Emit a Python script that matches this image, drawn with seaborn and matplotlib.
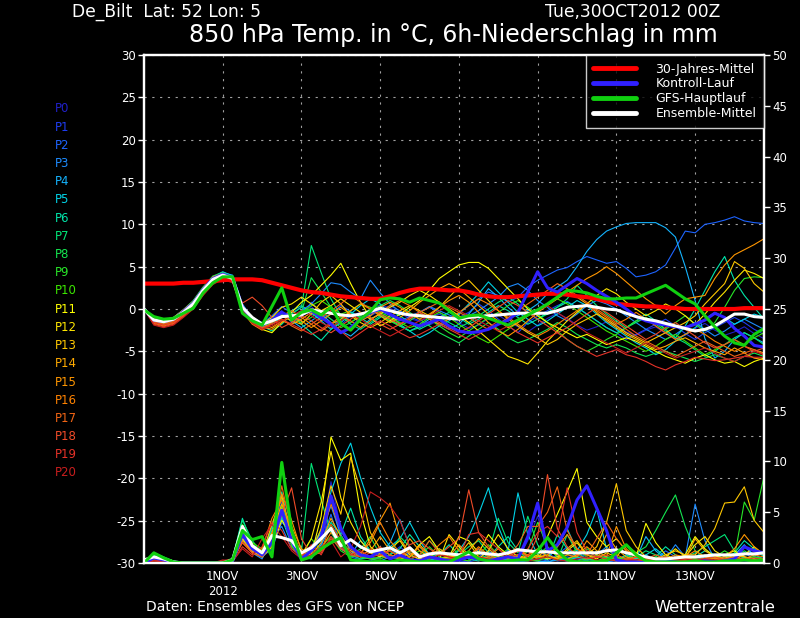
import numpy as np
import pandas as pd
import matplotlib
matplotlib.use('Agg')
import matplotlib.pyplot as plt
import seaborn as sns
from matplotlib.lines import Line2D

# forecast hours in 6h steps from Tue,30OCT2012 00Z
hours = np.arange(0, 384, 6)

date_ticks = [48, 96, 144, 192, 240, 288, 336]
date_labels = ['1NOV\n2012', '3NOV', '5NOV', '7NOV', '9NOV', '11NOV', '13NOV']
temp_ticks = [-30, -25, -20, -15, -10, -5, 0, 5, 10, 15, 20, 25, 30]
precip_ticks = [0, 5, 10, 15, 20, 25, 30, 35, 40, 45, 50]

member_names = ['P%d' % k for k in range(21)]
member_colors = ['#2020c8', '#1e3cf0', '#1e64ff', '#1e8cff', '#14b4ff', '#00d2e6',
                 '#00e6aa', '#00e678', '#14e650', '#28e628', '#3ce600', '#ffff00',
                 '#ffe600', '#ffc800', '#ffaa00', '#ff9600', '#ff8200', '#f06414',
                 '#f04b28', '#e63228', '#c81e1e']

# 850 hPa temperature (deg C), ensemble members
temp_p0 = [0.0, -1.3, -1.5, -1.2, -0.3, 0.7, 2.3, 3.6,
           4.1, 3.7, 0.2, -1.2, -1.9, -1.4, -0.6, -1.2,
           -0.6, 0.3, -0.9, -1.8, -2.8, -2.3, -1.2, 0.1,
           0.5, 0.1, -0.5, -1.1, -1.5, -1.9, -1.3, -0.9,
           -1.6, -2.3, -1.9, -1.1, -0.7, -1.5, -2.1, -2.7,
           -1.9, -1.1, -0.5, -1.1, -1.9, -2.5, -2.1, -1.5,
           -1.9, -2.7, -3.1, -2.5, -2.1, -2.9, -3.5, -3.1,
           -2.3, -1.7, -2.5, -3.1, -2.7, -2.1, -2.9, -3.5]
temp_p1 = [0.0, -1.5, -1.7, -1.4, -0.5, 0.5, 2.1, 3.4,
           4.0, 3.6, 0.0, -1.4, -2.1, -1.0, -0.2, -1.6,
           -1.0, 0.8, -0.4, -1.2, -1.9, -0.8, -0.4, -0.8,
           -0.2, 0.4, -0.2, -0.9, -1.4, -1.0, -0.6, -1.2,
           -1.0, -0.4, 0.6, -0.2, -1.2, -2.0, -2.8, -1.6,
           -0.8, -0.2, 0.4, 0.9, 0.2, -0.6, -1.4, -2.2,
           -2.8, -3.6, -3.0, -2.4, -1.8, -1.2, -2.0, -2.9,
           -3.6, -2.8, -2.2, -1.6, -1.0, -1.6, -2.4, -3.0]
temp_p2 = [0.0, -1.2, -1.4, -1.1, -0.2, 0.8, 2.4, 3.7,
           4.2, 3.8, 0.4, -1.0, -1.7, -0.8, 0.3, -0.5,
           0.2, -0.6, -1.2, -0.6, 0.4, -0.3, -1.0, -0.6,
           -0.2, -0.8, -1.4, -0.9, -0.4, 0.2, -0.4, -1.0,
           -0.5, 0.4, 1.2, 2.0, 1.6, 0.8, 1.4, 2.6,
           3.4, 4.0, 4.6, 4.9, 5.6, 6.2, 5.8, 5.4,
           5.6, 4.8, 3.8, 4.0, 4.4, 5.2, 7.2, 9.2,
           9.0, 10.0, 10.2, 10.5, 10.9, 10.4, 10.2, 10.1]
temp_p3 = [0.0, -1.4, -1.6, -1.3, -0.4, 0.6, 2.2, 3.5,
           4.3, 4.0, 0.6, -1.1, -1.8, -1.2, -0.4, -0.9,
           -0.2, 0.6, 1.8, 3.1, 2.9, 2.0, 1.2, 3.4,
           1.9, 0.6, -0.3, -0.8, -0.4, 0.3, -0.2, -0.7,
           -1.2, -0.8, -0.2, 0.6, 1.4, 2.6, 3.0, 2.2,
           1.0, 0.2, -0.8, -1.4, -0.6, 0.4, 1.0, 0.6,
           0.0, -0.8, -1.6, -2.4, -3.0, -3.6, -3.0, -2.2,
           -1.6, -2.4, -3.2, -2.6, -1.8, -1.2, -1.8, -2.4]
temp_p4 = [0.0, -1.3, -1.6, -1.3, -0.4, 0.6, 2.2, 3.6,
           4.2, 3.9, 0.3, -1.3, -2.0, -1.6, -0.8, -1.4,
           -2.2, -1.4, -0.6, -1.6, -2.6, -3.2, -2.2, -1.2,
           -0.6, -1.2, -2.0, -2.6, -2.0, -1.2, -1.8, -2.4,
           -1.8, -0.6, 0.8, 2.4, 1.4, 0.2, -0.8, -0.2,
           0.6, 1.8, 2.6, 3.4, 5.0, 6.8, 8.2, 9.2,
           9.7, 10.1, 10.2, 10.2, 10.2, 9.6, 8.5, 5.0,
           1.0, -3.5, -5.8, -5.0, -3.6, -2.8, -3.4, -4.0]
temp_p5 = [0.0, -1.1, -1.3, -1.0, -0.1, 0.9, 2.5, 3.8,
           4.4, 3.9, 0.4, -1.0, -1.6, -1.8, -1.0, -0.2,
           0.4, -0.4, -1.4, -2.4, -1.6, -0.6, 0.4, 1.2,
           0.6, -0.6, -1.8, -2.6, -3.4, -2.8, -2.0, -1.4,
           -0.6, 0.6, 1.8, 3.2, 2.0, 0.8, -0.4, -1.2,
           -2.0, -1.4, -0.6, 0.2, 1.0, 0.4, -0.6, -1.6,
           -2.4, -3.2, -4.0, -4.6, -5.4, -4.8, -3.8, -3.0,
           -2.2, -1.2, -0.4, -1.0, -1.8, -1.2, -0.6, -1.0]
temp_p6 = [0.0, -1.2, -1.4, -1.1, -0.2, 0.8, 2.4, 3.7,
           4.1, 3.7, 0.1, -1.3, -2.0, -2.6, -1.8, -0.6,
           -1.8, -2.8, -3.7, -2.4, -1.2, -0.4, -1.0, -1.8,
           -1.0, -0.2, -0.8, -1.6, -2.4, -1.8, -1.0, -0.4,
           -1.0, -1.8, -1.2, -0.4, 0.4, -0.2, -1.0, -1.8,
           -1.2, -0.4, 0.2, 0.8, 0.2, -0.6, -1.4, -2.2,
           -2.8, -2.2, -1.4, -0.6, -1.4, -2.4, -3.4, -2.0,
           0.0, 2.2, 4.4, 6.2, 3.4, 1.6, 0.2, -1.2]
temp_p7 = [0.0, -1.4, -1.7, -1.3, -0.3, 0.6, 2.2, 3.5,
           4.0, 3.6, 0.0, -1.5, -2.2, -1.6, -1.0, -0.6,
           0.2, 7.5, 4.3, 1.2, -0.8, -1.8, -2.4, -1.6,
           -0.8, -1.4, -2.0, -2.6, -2.2, -1.6, -1.0, -1.6,
           -2.2, -1.6, -0.8, 0.0, 0.8, 1.4, 0.6, -0.4,
           -1.2, -0.6, 0.2, 1.2, 2.8, 1.6, 0.4, -0.6,
           -1.4, -2.2, -1.6, -1.0, -1.8, -2.6, -3.4, -4.0,
           -4.8, -5.6, -5.0, -4.2, -3.4, -2.8, -3.4, -4.2]
temp_p8 = [0.0, -1.0, -1.3, -1.0, -0.1, 1.0, 2.6, 3.9,
           4.3, 3.8, 0.3, -1.1, -1.8, -1.0, -0.6, -1.4,
           -0.4, 3.7, 2.0, 0.2, -1.0, -1.6, -0.8, -0.2,
           0.4, 1.0, 0.4, -0.4, -1.2, -2.0, -2.8, -3.4,
           -4.0, -3.2, -2.4, -1.6, -2.4, -3.4, -4.0, -3.6,
           -3.0, -2.4, -1.6, -2.2, -3.0, -3.6, -4.2, -4.6,
           -4.2, -4.6, -5.2, -5.6, -5.2, -5.0, -5.4, -5.8,
           -6.2, -5.8, -5.4, -5.8, -6.2, -5.6, -5.2, -5.6]
temp_p9 = [0.0, -1.3, -1.5, -1.2, -0.3, 0.7, 2.3, 3.6,
           4.1, 3.7, 0.2, -1.2, -1.9, -1.2, -0.4, -1.0,
           -1.6, -1.0, -0.2, -1.2, -2.2, -1.6, -0.8, 0.0,
           -0.6, -1.4, -2.0, -1.4, -0.6, -1.2, -2.0, -2.8,
           -3.4, -2.6, -1.8, -1.0, -0.4, 0.4, 1.0, 0.2,
           -0.6, -1.6, -2.6, -3.6, -4.4, -5.0, -4.4, -3.6,
           -3.0, -2.2, -1.4, -1.0, -1.6, -2.4, -1.6, -0.8,
           -1.8, -2.6, -1.6, 0.2, 2.2, 3.6, 3.8, 3.7]
temp_p10 = [0.0, -1.5, -1.8, -1.5, -0.6, 0.4, 2.0, 3.3,
            3.9, 3.5, -0.1, -1.6, -2.3, -1.4, -0.4, -1.0,
            -0.4, 0.4, 1.0, 0.2, -0.6, -0.2, 0.6, 0.2,
            -0.4, -1.0, -1.6, -2.2, -1.8, -1.0, -0.4, -1.0,
            -1.8, -2.6, -3.4, -4.0, -3.2, -2.4, -1.6, -0.8,
            -0.2, 0.6, 1.2, 0.6, -0.2, -1.0, -1.8, -2.6,
            -3.2, -3.8, -4.4, -5.0, -4.4, -3.6, -3.0, -3.8,
            -4.6, -5.4, -4.8, -4.2, -3.6, -4.2, -3.4, -2.8]
temp_p11 = [0.0, -1.6, -1.9, -1.6, -0.7, 0.3, 1.9, 3.2,
            3.8, 3.4, -0.2, -1.7, -2.4, -2.8, -1.6, -0.4,
            0.8, 1.6, 2.8, 4.0, 5.4, 3.0, 0.8, -1.0,
            -2.0, -1.4, -0.6, 0.2, 1.0, 2.2, 3.6, 4.4,
            5.2, 5.5, 5.5, 4.8, 3.6, 2.4, 1.2, 0.0,
            -0.8, -1.6, -2.2, -2.8, -3.4, -3.0, -3.6, -4.2,
            -3.8, -3.4, -3.8, -4.4, -5.0, -5.6, -6.0, -6.4,
            -5.8, -5.4, -6.0, -6.4, -6.2, -6.8, -6.2, -5.8]
temp_p12 = [0.0, -1.2, -1.4, -1.2, -0.2, 0.8, 2.4, 3.7,
            4.1, 3.7, 0.2, -1.1, -1.8, -1.0, 0.2, 0.6,
            1.4, 0.6, -0.2, 0.4, 1.2, 0.4, -0.4, -1.2,
            -0.6, 0.2, 0.8, 1.6, 2.2, 1.6, 0.8, 0.0,
            -0.8, -1.6, -2.6, -3.6, -4.6, -5.6, -6.0, -6.5,
            -5.2, -3.8, -2.6, -1.4, -0.4, 0.6, 1.6, 2.4,
            1.8, 0.8, 0.0, -0.8, -0.2, 0.6, 0.0, -0.8,
            -1.8, -0.6, 0.8, 2.0, 3.4, 4.6, 4.2, 3.6]
temp_p13 = [0.0, -1.3, -1.6, -1.3, -0.4, 0.6, 2.2, 3.5,
            4.0, 3.6, 0.1, -1.3, -2.0, -1.2, -0.8, -1.4,
            -1.8, -0.6, 0.8, 1.6, 0.6, -0.8, -1.6, -2.2,
            -1.6, -0.8, -0.2, 0.4, -0.2, -0.8, 0.2, 1.4,
            2.6, 3.4, 2.2, 1.0, -0.2, -1.2, -2.0, -2.8,
            -3.4, -4.2, -3.6, -2.6, -1.8, -1.2, -0.6, -1.2,
            -2.0, -2.8, -3.4, -4.0, -3.4, -2.8, -2.2, -1.6,
            -0.8, 0.6, 1.8, 3.0, 5.6, 4.8, 3.0, 2.0]
temp_p14 = [0.0, -1.1, -1.3, -1.0, -0.1, 0.9, 2.5, 3.8,
            4.2, 3.8, 0.3, -1.0, -1.7, -2.2, -1.4, -1.8,
            -1.2, -0.4, -1.0, -1.8, -1.2, -0.2, 0.6, 0.0,
            -0.8, -1.6, -1.0, -0.2, 0.8, 1.6, 2.4, 3.0,
            2.4, 1.4, 0.4, -0.6, -1.4, -2.2, -1.6, -0.8,
            -0.2, 0.6, 1.4, 2.2, 1.4, 0.6, -0.4, -1.4,
            -2.2, -3.0, -3.6, -4.2, -4.8, -4.4, -3.8, -3.4,
            -4.0, -4.6, -5.0, -5.4, -4.6, -5.2, -5.8, -6.0]
temp_p15 = [0.0, -1.4, -1.7, -1.4, -0.5, 0.5, 2.1, 3.4,
            3.9, 3.5, 0.0, -1.4, -2.1, -2.4, -1.6, -0.8,
            -1.4, -2.2, -1.4, -0.6, 0.2, -0.6, -1.4, -0.8,
            0.2, 0.8, 0.2, -0.6, -1.2, -0.6, 0.2, 1.0,
            1.6, 0.8, -0.4, -1.6, -2.6, -3.2, -2.4, -1.4,
            -0.4, 0.4, 1.2, 2.0, 2.8, 3.6, 4.2, 5.0,
            4.2, 3.2, 2.2, 1.2, 0.4, -0.6, 0.4, 1.2,
            1.4, 1.6, 3.6, 5.2, 6.4, 7.0, 7.6, 8.3]
temp_p16 = [0.0, -1.7, -2.0, -1.7, -0.8, 0.2, 1.8, 3.1,
            3.7, 3.3, -0.3, -1.8, -2.5, -1.6, -0.8, -0.2,
            -1.0, -1.8, -2.6, -1.8, -0.8, -1.4, -2.2, -1.4,
            -0.4, 0.4, 1.0, 0.4, -0.4, -1.2, -1.8, -1.2,
            -0.4, 0.4, 1.2, 0.6, -0.2, -1.0, -1.8, -2.6,
            -3.2, -2.6, -1.8, -1.0, -0.2, 0.6, -0.2, -1.0,
            -1.8, -1.2, -0.4, -1.2, -2.0, -2.8, -3.6, -3.0,
            -2.4, -3.0, -3.8, -4.4, -5.0, -4.4, -4.8, -5.2]
temp_p17 = [0.0, -1.5, -1.8, -1.5, -0.6, 0.4, 2.0, 3.3,
            3.9, 3.5, 0.0, -1.5, -2.2, -1.8, -1.2, -2.0,
            -2.6, -1.8, -1.0, -0.2, 0.6, 1.6, 0.8, 0.0,
            -0.6, -1.2, -1.8, -1.2, -0.4, 0.2, 0.8, 0.2,
            -0.4, -1.0, -1.8, -2.4, -1.8, -1.0, -0.2, 0.6,
            1.4, 2.2, 3.0, 2.4, 1.6, 0.8, 0.0, -0.8,
            -1.6, -2.4, -3.2, -3.8, -4.4, -5.0, -5.6, -5.0,
            -4.4, -3.8, -4.4, -5.0, -5.6, -5.2, -4.8, -5.4]
temp_p18 = [0.0, -1.8, -2.1, -1.8, -0.9, 0.1, 1.7, 3.0,
            3.6, 3.2, 0.7, 1.4, 0.4, -1.0, -2.2, -1.6,
            -0.8, -1.4, -2.2, -2.8, -2.0, -1.2, -0.4, -1.0,
            -1.8, -2.4, -1.8, -1.0, -0.4, -1.0, -1.6, -2.2,
            -2.8, -2.2, -1.4, -0.6, 0.2, 1.0, 0.4, -0.4,
            -1.2, -2.0, -2.8, -2.2, -1.4, -0.6, 0.2, -0.4,
            -1.2, -2.0, -2.8, -3.6, -3.0, -2.2, -1.6, -2.4,
            -3.2, -4.0, -4.6, -4.2, -3.6, -4.4, -5.0, -4.6]
temp_p19 = [0.0, -1.6, -1.9, -1.6, -0.7, 0.3, 1.9, 3.2,
            3.8, 3.4, -0.1, -1.6, -2.3, -1.8, -1.2, -1.8,
            -2.4, -3.0, -2.4, -1.6, -2.6, -3.6, -2.8, -2.0,
            -1.4, -2.0, -2.8, -3.4, -3.0, -2.4, -1.8, -2.4,
            -3.0, -3.6, -3.0, -2.2, -1.4, -2.0, -2.8, -3.4,
            -4.0, -3.4, -2.8, -3.6, -4.4, -5.0, -5.6, -5.2,
            -4.8, -5.4, -5.7, -6.2, -6.8, -7.2, -6.6, -6.2,
            -5.7, -5.9, -6.1, -6.0, -5.8, -5.6, -5.7, -5.7]
temp_p20 = [0.0, -1.9, -2.2, -1.9, -1.0, 0.0, 1.6, 2.9,
            3.5, 3.1, -0.2, -1.7, -2.4, -2.0, -1.4, -0.8,
            -0.2, -0.8, -1.6, -2.2, -1.4, -0.6, -1.2, -2.0,
            -2.6, -3.2, -2.6, -2.0, -1.4, -0.8, -0.2, 0.4,
            -0.2, -0.8, -1.4, -2.0, -2.6, -2.0, -1.4, -0.8,
            -0.2, 0.4, -0.4, -1.2, -2.0, -2.8, -3.4, -4.0,
            -4.6, -5.2, -4.6, -4.0, -4.6, -5.2, -5.8, -5.4,
            -5.0, -4.6, -5.2, -5.8, -6.2, -5.6, -5.0, -5.4]

temp_control = [0.0, -1.3, -1.5, -1.2, -0.3, 0.7, 2.3, 3.6,
                4.1, 3.7, 0.2, -1.2, -1.9, -1.3, -0.4, -1.0,
                -0.6, -0.2, -1.0, -1.8, -2.8, -2.2, -1.2, -0.4,
                0.0, -0.6, -1.2, -1.6, -2.0, -1.6, -1.2, -2.0,
                -2.6, -2.8, -2.7, -2.4, -1.8, -1.3, -0.4, 2.0,
                4.4, 2.5, 2.0, 2.8, 3.6, 3.0, 2.2, 1.5,
                0.8, 0.0, -0.9, -1.4, -1.7, -1.9, -2.1, -2.2,
                -1.8, -1.3, -0.5, -1.0, -2.3, -3.2, -4.3, -4.5]
temp_gfs = [-0.1, -0.9, -1.2, -1.1, -0.5, 0.1, 1.9, 3.1,
            3.8, 3.8, -0.5, -1.4, -1.9, 0.3, 2.5, -1.3,
            -0.4, -0.1, -0.7, 0.2, -1.7, -2.5, -1.2, -0.3,
            1.1, 1.3, 1.2, 0.8, 1.3, 1.0, 0.7, -0.2,
            -1.1, -0.8, -0.7, -1.1, -1.5, -1.9, -1.3, -0.7,
            -0.1, 0.6, 1.4, 2.2, 2.1, 1.9, 1.5, 1.2,
            1.2, 1.3, 1.3, 1.8, 2.3, 2.8, 2.0, 1.2,
            0.6, -0.8, -2.1, -3.2, -4.0, -4.3, -3.0, -2.3]
temp_mean = [0.0, -1.3, -1.5, -1.2, -0.4, 0.6, 2.2, 3.5,
             4.0, 3.6, 0.2, -1.0, -1.8, -1.4, -0.9, -0.8,
             -0.7, -0.1, -0.3, -0.5, -0.7, -0.8, -0.6, -0.3,
             0.1, -0.2, -0.5, -0.7, -0.8, -0.9, -1.0, -1.1,
             -1.2, -1.0, -0.9, -0.8, -0.7, -0.6, -0.5, -0.5,
             -0.5, -0.5, -0.2, 0.2, 0.3, 0.4, 0.2, 0.0,
             -0.1, -0.5, -0.9, -1.2, -1.4, -1.7, -2.0, -2.3,
             -2.6, -2.4, -2.0, -1.3, -0.6, -0.6, -0.9, -1.0]
temp_clim = [3.0, 3.0, 3.0, 3.0, 3.1, 3.1, 3.2, 3.3,
             3.4, 3.5, 3.5, 3.5, 3.4, 3.1, 2.8, 2.5,
             2.2, 2.0, 1.9, 1.7, 1.5, 1.4, 1.3, 1.2,
             1.2, 1.5, 1.9, 2.2, 2.4, 2.4, 2.3, 2.2,
             2.2, 2.0, 1.7, 1.5, 1.4, 1.4, 1.5, 1.6,
             1.7, 1.8, 1.8, 1.7, 1.5, 1.4, 1.2, 0.9,
             0.6, 0.5, 0.4, 0.3, 0.3, 0.2, 0.1, 0.0,
             0.0, 0.0, 0.0, 0.0, 0.0, 0.1, 0.1, 0.1]

# 6h precipitation (mm), ensemble members
precip_p0 = [0, 0.6, 0.4, 0.1, 0, 0, 0, 0,
             0, 0.2, 2.8, 1.4, 0.8, 2.0, 5.2, 2.2,
             0.4, 1.2, 2.6, 8.0, 3.4, 1.6, 0.8, 0.6,
             1.2, 0.4, 0.8, 0.3, 0.2, 0.6, 0.4, 0.2,
             0.3, 0.8, 0.4, 0.2, 0.6, 1.2, 0.4, 2.2,
             4.6, 1.0, 0.4, 0.2, 0.6, 0.3, 0.2, 0.1,
             0.2, 0.4, 0.1, 0.0, 0.2, 0.3, 0.1, 0.0,
             0.1, 0.2, 0.0, 0.1, 0.3, 0.2, 0.1, 0.2]
precip_p1 = [0, 0.5, 0.3, 0.1, 0, 0, 0, 0,
             0, 0.1, 2.6, 1.6, 1.0, 3.4, 6.0, 1.8,
             0.6, 0.8, 1.4, 6.2, 2.4, 0.8, 0.4, 0.6,
             0.4, 0.8, 1.6, 0.8, 0.3, 0.2, 0.6, 0.4,
             0.2, 0.1, 0.4, 0.8, 0.3, 0.2, 0.1, 0.4,
             1.2, 0.6, 0.2, 0.4, 1.0, 0.6, 0.2, 0.1,
             0.0, 0.1, 0.3, 0.2, 0.0, 0.1, 0.4, 0.2,
             0.6, 0.3, 0.1, 0.2, 0.4, 0.8, 1.4, 0.8]
precip_p2 = [0, 0.4, 0.3, 0.0, 0, 0, 0, 0,
             0, 0.2, 2.2, 1.2, 0.6, 1.4, 4.0, 3.0,
             1.0, 0.6, 2.0, 4.8, 1.6, 0.6, 0.3, 0.2,
             0.6, 1.4, 0.8, 0.4, 0.2, 0.1, 0.3, 0.8,
             0.4, 0.2, 0.6, 1.2, 0.6, 0.3, 0.1, 0.2,
             0.4, 0.2, 0.8, 1.6, 0.6, 0.2, 0.1, 0.4,
             0.2, 0.8, 0.4, 0.1, 0.3, 1.2, 0.6, 0.2,
             0.1, 0.4, 0.8, 0.3, 0.6, 1.0, 0.4, 0.2]
precip_p3 = [0, 0.5, 0.2, 0.1, 0, 0, 0, 0,
             0, 0.3, 3.0, 1.0, 0.4, 2.4, 3.6, 1.4,
             0.8, 1.6, 3.2, 5.6, 2.8, 1.2, 0.6, 0.4,
             0.2, 0.6, 0.4, 1.0, 0.6, 0.3, 0.2, 0.4,
             0.8, 0.4, 1.2, 0.6, 0.2, 0.4, 0.8, 0.3,
             0.2, 0.1, 0.3, 0.6, 0.4, 0.2, 0.8, 1.6,
             0.6, 0.3, 0.4, 0.8, 0.2, 0.4, 1.8, 0.6,
             5.8, 2.2, 0.4, 0.6, 0.8, 1.6, 0.8, 0.4]
precip_p4 = [0, 0.4, 0.3, 0.1, 0, 0, 0, 0,
             0, 0.2, 2.4, 1.4, 0.8, 1.8, 4.6, 2.6,
             0.6, 0.4, 1.8, 3.6, 1.4, 0.8, 2.2, 1.2,
             0.8, 2.0, 4.3, 1.6, 0.6, 0.4, 0.2, 0.6,
             0.3, 0.6, 1.4, 0.8, 0.4, 0.2, 0.6, 0.4,
             0.2, 0.1, 0.4, 0.2, 0.6, 0.4, 0.2, 0.1,
             0.3, 0.2, 0.4, 2.6, 1.2, 0.4, 0.2, 0.1,
             0.3, 0.6, 0.2, 0.4, 0.8, 1.8, 0.6, 0.3]
precip_p5 = [0, 0.6, 0.4, 0.1, 0, 0, 0, 0,
             0, 0.3, 3.2, 1.6, 0.6, 2.0, 4.4, 1.8,
             0.4, 1.4, 3.0, 7.0, 9.8, 11.8, 8.4, 5.5,
             3.0, 1.6, 2.4, 4.0, 2.2, 0.8, 0.4, 0.6,
             1.2, 2.6, 4.8, 7.4, 3.6, 1.2, 6.9, 2.8,
             0.8, 0.4, 1.6, 3.4, 1.2, 2.8, 5.3, 1.4,
             0.6, 0.2, 0.4, 0.8, 1.4, 0.6, 0.3, 0.2,
             0.4, 0.8, 0.6, 0.3, 0.2, 0.6, 0.4, 0.2]
precip_p6 = [0, 0.8, 0.5, 0.1, 0, 0, 0, 0,
             0, 0.4, 4.4, 1.8, 1.2, 3.2, 7.0, 2.4,
             0.8, 1.4, 2.2, 4.0, 2.8, 5.4, 2.6, 1.2,
             0.6, 0.8, 1.4, 2.8, 1.6, 0.6, 0.8, 1.8,
             0.8, 0.4, 0.2, 0.6, 1.6, 2.6, 1.2, 0.4,
             0.6, 0.3, 2.8, 1.4, 0.6, 0.3, 1.2, 0.6,
             0.3, 0.8, 0.4, 0.2, 0.6, 1.6, 0.8, 0.3,
             0.6, 1.2, 0.8, 0.4, 1.0, 2.2, 1.4, 0.6]
precip_p7 = [0, 1.0, 0.6, 0.2, 0, 0, 0, 0,
             0, 0.5, 4.2, 2.2, 1.0, 3.6, 6.4, 2.0,
             1.2, 9.8, 6.2, 3.0, 1.4, 0.8, 0.4, 0.6,
             1.4, 0.8, 2.6, 1.6, 0.8, 2.2, 1.2, 0.6,
             0.8, 1.6, 2.2, 1.0, 4.4, 2.0, 1.0, 4.6,
             1.8, 0.6, 0.3, 2.8, 1.0, 0.4, 0.2, 0.6,
             0.4, 0.2, 0.6, 1.2, 0.8, 0.4, 0.2, 0.6,
             1.0, 1.6, 2.2, 2.8, 1.2, 0.4, 0.6, 0.4]
precip_p8 = [0, 0.7, 0.4, 0.1, 0, 0, 0, 0,
             0, 0.3, 3.4, 1.2, 0.8, 2.8, 5.6, 2.6,
             0.6, 1.0, 2.4, 3.6, 1.8, 0.8, 1.4, 2.6,
             0.8, 0.4, 0.6, 1.2, 0.6, 0.4, 1.4, 0.8,
             0.6, 1.2, 0.4, 0.8, 0.6, 1.4, 0.6, 0.3,
             0.8, 1.6, 0.6, 0.4, 0.6, 1.4, 0.8, 0.6,
             0.4, 0.6, 1.0, 1.6, 3.2, 5.0, 6.7, 3.6,
             1.2, 0.6, 0.8, 0.3, 0.6, 1.2, 0.6, 0.4]
precip_p9 = [0, 0.6, 0.3, 0.1, 0, 0, 0, 0,
             0, 0.2, 2.6, 1.8, 1.2, 2.2, 4.8, 2.0,
             0.4, 0.8, 1.6, 2.6, 1.2, 0.6, 0.8, 0.4,
             0.6, 1.2, 0.6, 0.3, 0.8, 1.6, 0.6, 0.4,
             1.4, 0.6, 0.3, 0.4, 0.8, 0.4, 0.2, 1.2,
             4.0, 1.6, 0.6, 0.4, 0.2, 0.4, 0.8, 0.4,
             0.2, 0.4, 0.8, 0.4, 0.2, 0.6, 0.3, 0.2,
             0.4, 0.3, 0.6, 1.2, 0.6, 6.0, 4.2, 8.5]
precip_p10 = [0, 0.9, 0.5, 0.2, 0, 0, 0, 0,
              0, 0.4, 3.8, 2.0, 1.4, 2.6, 5.8, 1.6,
              0.6, 2.4, 1.2, 2.0, 3.4, 1.6, 0.6, 0.4,
              0.4, 0.8, 0.4, 0.6, 1.2, 0.6, 0.3, 0.8,
              0.4, 0.2, 0.8, 1.8, 0.8, 0.4, 0.6, 0.3,
              0.2, 0.6, 0.3, 0.8, 1.4, 0.6, 0.2, 0.4,
              0.6, 0.3, 0.2, 0.4, 0.6, 0.2, 0.4, 0.8,
              0.4, 0.2, 0.6, 0.8, 0.4, 0.3, 0.6, 0.4]
precip_p11 = [0, 0.5, 0.3, 0.0, 0, 0, 0, 0,
              0, 0.2, 2.8, 1.2, 0.6, 1.6, 4.2, 2.8,
              1.0, 0.8, 4.6, 12.4, 10.1, 10.8, 5.0, 1.6,
              0.8, 0.4, 1.2, 0.6, 1.8, 2.6, 1.2, 0.6,
              2.6, 2.2, 1.0, 2.8, 1.6, 0.8, 1.4, 0.6,
              1.2, 2.6, 4.8, 7.0, 9.3, 4.0, 2.6, 1.6,
              2.4, 1.2, 0.6, 3.9, 2.0, 0.8, 0.4, 0.8,
              2.6, 1.4, 0.6, 0.8, 1.2, 0.6, 0.4, 0.2]
precip_p12 = [0, 0.4, 0.2, 0.0, 0, 0, 0, 0,
              0, 0.1, 2.4, 1.0, 0.6, 2.2, 5.4, 2.0,
              0.8, 2.4, 6.0, 11.0, 6.4, 4.0, 2.2, 1.0,
              0.6, 1.4, 2.2, 0.8, 0.4, 0.6, 0.3, 2.8,
              1.6, 0.6, 0.4, 1.2, 2.8, 1.4, 0.6, 0.4,
              0.8, 0.4, 0.6, 1.2, 2.0, 0.8, 0.4, 1.0,
              0.6, 1.8, 1.0, 0.4, 0.2, 0.6, 1.4, 0.6,
              1.8, 2.6, 1.2, 0.6, 0.4, 0.8, 1.6, 0.8]
precip_p13 = [0, 0.6, 0.3, 0.1, 0, 0, 0, 0,
              0, 0.3, 3.0, 1.4, 0.8, 3.8, 6.6, 2.4,
              0.6, 1.0, 3.4, 7.6, 4.8, 10.4, 7.2, 3.0,
              1.4, 0.8, 0.4, 0.6, 1.8, 0.8, 0.4, 0.6,
              0.8, 2.0, 0.6, 0.4, 0.2, 0.6, 0.8, 0.4,
              0.6, 0.8, 0.4, 1.4, 2.2, 0.8, 1.6, 4.0,
              7.8, 3.2, 1.6, 0.6, 0.4, 0.8, 1.2, 0.8,
              0.8, 1.8, 3.4, 5.9, 6.0, 7.5, 4.2, 3.0]
precip_p14 = [0, 0.5, 0.3, 0.1, 0, 0, 0, 0,
              0, 0.2, 2.6, 1.6, 1.0, 3.0, 5.8, 3.6,
              1.4, 0.8, 2.0, 4.4, 2.6, 1.4, 0.8, 1.2,
              2.6, 1.2, 0.6, 2.4, 1.2, 0.6, 1.4, 0.8,
              0.4, 1.2, 2.4, 1.4, 0.6, 0.4, 0.8, 1.2,
              0.6, 1.4, 0.8, 0.4, 0.8, 1.6, 0.8, 2.8,
              1.4, 0.6, 0.3, 0.6, 0.4, 0.2, 0.6, 0.4,
              2.4, 1.2, 0.6, 0.4, 0.8, 0.6, 0.3, 0.4]
precip_p15 = [0, 0.4, 0.2, 0.0, 0, 0, 0, 0,
              0, 0.3, 2.2, 1.2, 0.8, 2.6, 6.8, 4.2,
              1.2, 0.6, 1.4, 3.0, 2.0, 1.2, 0.8, 2.4,
              4.2, 5.9, 2.4, 1.0, 0.6, 0.4, 0.8, 0.6,
              1.8, 0.8, 0.4, 0.6, 1.4, 0.6, 0.3, 0.8,
              1.4, 0.6, 0.4, 0.8, 0.6, 2.2, 1.2, 0.6,
              3.6, 1.4, 0.6, 0.3, 0.4, 0.6, 0.4, 0.3,
              0.6, 0.8, 0.4, 0.6, 1.4, 2.8, 1.6, 0.8]
precip_p16 = [0, 0.3, 0.2, 0.0, 0, 0, 0, 0,
              0, 0.2, 2.0, 1.0, 1.4, 4.4, 6.2, 3.0,
              0.8, 1.6, 2.6, 5.8, 3.2, 1.6, 1.0, 2.0,
              4.0, 2.2, 1.0, 0.6, 1.6, 0.8, 1.8, 2.6,
              1.2, 0.6, 1.6, 0.8, 0.4, 0.6, 1.2, 0.8,
              0.4, 0.8, 1.6, 2.8, 1.4, 0.8, 0.6, 1.4,
              0.8, 0.4, 0.6, 0.3, 0.2, 0.4, 0.8, 0.6,
              1.2, 0.6, 0.4, 0.3, 0.6, 0.4, 0.8, 0.6]
precip_p17 = [0, 0.4, 0.2, 0.1, 0, 0, 0, 0,
              0, 0.2, 2.6, 1.8, 0.8, 2.4, 7.6, 3.2,
              1.0, 0.6, 1.2, 3.8, 2.2, 1.0, 0.6, 1.4,
              0.8, 0.4, 0.6, 1.2, 0.8, 2.2, 1.0, 0.6,
              0.4, 0.8, 1.4, 0.6, 0.3, 0.6, 1.8, 3.6,
              3.6, 5.0, 7.5, 3.2, 1.4, 0.8, 2.4, 4.0,
              2.4, 1.2, 0.6, 0.4, 0.8, 0.4, 0.2, 0.4,
              0.6, 0.4, 0.2, 0.4, 0.6, 0.3, 0.2, 0.4]
precip_p18 = [0, 0.3, 0.2, 0.0, 0, 0, 0, 0,
              0.2, 0.4, 2.0, 1.0, 0.6, 1.8, 4.8, 7.4,
              2.4, 0.8, 1.0, 2.4, 1.4, 0.8, 0.6, 1.0,
              1.6, 0.8, 0.4, 1.8, 2.2, 1.4, 0.8, 1.6,
              2.4, 7.2, 3.0, 1.6, 0.8, 0.6, 1.2, 0.6,
              2.6, 8.7, 3.4, 1.6, 0.8, 0.4, 0.6, 0.8,
              0.4, 0.2, 0.6, 0.4, 0.2, 0.3, 0.6, 0.4,
              0.2, 0.4, 0.6, 0.3, 0.2, 0.4, 0.3, 0.2]
precip_p19 = [0, 0.2, 0.1, 0.0, 0, 0, 0, 0,
              0, 0.1, 1.6, 0.8, 1.6, 4.0, 3.2, 1.4,
              0.6, 1.8, 0.8, 2.6, 1.6, 0.8, 1.2, 0.6,
              0.8, 1.2, 0.6, 0.4, 0.8, 0.6, 0.3, 0.4,
              0.6, 2.8, 3.0, 2.2, 1.4, 0.6, 0.8, 1.4,
              3.0, 3.6, 2.6, 7.4, 3.0, 1.2, 0.6, 0.4,
              0.2, 0.4, 0.3, 0.2, 0.4, 0.6, 0.3, 0.2,
              0.4, 0.3, 0.2, 0.4, 0.2, 0.3, 0.5, 0.3]
precip_p20 = [0, 0.2, 0.2, 0.0, 0, 0, 0, 0,
              0.3, 0.2, 1.4, 0.6, 2.4, 3.8, 2.6, 1.2,
              0.4, 0.8, 1.6, 2.2, 0.6, 1.4, 3.6, 7.0,
              6.4, 5.6, 4.2, 1.6, 0.6, 0.4, 0.8, 0.6,
              0.4, 0.8, 0.6, 0.4, 0.2, 0.6, 0.4, 0.2,
              0.4, 0.6, 0.3, 0.2, 0.4, 0.6, 0.3, 0.2,
              0.4, 0.2, 0.3, 0.6, 0.4, 0.2, 0.3, 0.4,
              0.2, 0.4, 0.3, 0.2, 0.4, 0.3, 0.2, 0.4]

precip_control = [0, 0.5, 0.3, 0.1, 0, 0, 0, 0,
                  0, 0.2, 2.8, 1.4, 0.8, 2.0, 5.2, 2.2,
                  0.4, 1.2, 2.6, 6.6, 3.4, 1.6, 0.8, 0.6,
                  1.2, 0.4, 0.8, 0.3, 0.2, 0.6, 0.4, 0.2,
                  0.3, 0.6, 0.4, 0.2, 0.4, 0.6, 0.4, 2.6,
                  5.9, 1.2, 1.8, 3.5, 6.2, 7.6, 5.4, 3.2,
                  0.3, 0.1, 0.1, 0.0, 0.1, 0.2, 0.1, 0.0,
                  0.1, 0.2, 0.1, 0.2, 0.4, 1.6, 1.2, 1.0]
precip_gfs = [0, 1.0, 0.5, 0.1, 0, 0, 0, 0,
              0, 0.3, 3.2, 2.3, 2.6, 0.6, 9.9, 3.2,
              0.3, 0.6, 1.4, 2.0, 2.5, 0.3, 0.2, 0.1,
              0.2, 0.1, 0.3, 0.2, 0.1, 0.2, 0.1, 0.1,
              0.6, 1.1, 0.4, 0.2, 0.1, 0.2, 0.3, 0.3,
              1.2, 2.5, 1.2, 0.3, 0.1, 0.1, 0.1, 0.2,
              1.0, 1.8, 0.8, 0.2, 0.1, 0.1, 0.1, 0.1,
              0.2, 0.1, 0.1, 0.2, 0.2, 0.3, 0.2, 0.3]
precip_mean = [0.3, 0.6, 0.4, 0.1, 0.0, 0.0, 0.0, 0.0,
               0.0, 0.3, 3.6, 1.7, 1.0, 2.7, 2.5, 2.2,
               1.0, 1.5, 2.4, 3.4, 1.7, 2.3, 1.6, 1.1,
               1.3, 1.5, 1.0, 1.5, 0.6, 0.9, 1.0, 0.9,
               0.8, 0.9, 1.0, 0.9, 0.8, 1.0, 1.3, 1.2,
               1.1, 1.1, 1.0, 1.0, 1.0, 1.0, 1.0, 1.2,
               1.3, 1.0, 0.8, 0.6, 0.4, 0.4, 0.5, 0.6,
               0.6, 0.7, 0.8, 0.8, 0.8, 0.9, 0.9, 1.0]

temp_members = [temp_p0, temp_p1, temp_p2, temp_p3, temp_p4, temp_p5, temp_p6,
                temp_p7, temp_p8, temp_p9, temp_p10, temp_p11, temp_p12, temp_p13,
                temp_p14, temp_p15, temp_p16, temp_p17, temp_p18, temp_p19, temp_p20]
precip_members = [precip_p0, precip_p1, precip_p2, precip_p3, precip_p4, precip_p5,
                  precip_p6, precip_p7, precip_p8, precip_p9, precip_p10, precip_p11,
                  precip_p12, precip_p13, precip_p14, precip_p15, precip_p16,
                  precip_p17, precip_p18, precip_p19, precip_p20]

ens = pd.DataFrame({
    'hour': np.tile(hours, len(member_names)),
    'member': np.repeat(member_names, len(hours)),
    'temp': np.concatenate(temp_members),
    'precip': np.concatenate(precip_members),
})

sns.set_theme(style='ticks', rc={
    'figure.facecolor': 'black', 'axes.facecolor': 'black',
    'axes.edgecolor': 'white', 'text.color': 'white',
    'xtick.color': 'white', 'ytick.color': 'white',
    'axes.labelcolor': 'white', 'savefig.facecolor': 'black'})
plt.rcParams['font.family'] = ['DejaVu Sans']

fig = plt.figure(figsize=(8, 6.18), dpi=100)
ax = fig.add_axes([0.18, 0.089, 0.775, 0.822])
ax2 = ax.twinx()

palette = dict(zip(member_names, member_colors))

# temperature (left axis)
sns.lineplot(data=ens, x='hour', y='temp', hue='member', palette=palette,
             linewidth=0.8, legend=False, estimator=None, ax=ax)
sns.lineplot(x=hours, y=temp_clim, color='#ff0000', linewidth=3.0, ax=ax)
sns.lineplot(x=hours, y=temp_control, color='#3020ff', linewidth=2.2, ax=ax)
sns.lineplot(x=hours, y=temp_mean, color='white', linewidth=2.2, ax=ax)
sns.lineplot(x=hours, y=temp_gfs, color='#10d010', linewidth=2.2, ax=ax)

# precipitation (right axis)
sns.lineplot(data=ens, x='hour', y='precip', hue='member', palette=palette,
             linewidth=0.8, legend=False, estimator=None, ax=ax2)
sns.lineplot(x=hours, y=precip_control, color='#3020ff', linewidth=2.2, ax=ax2)
sns.lineplot(x=hours, y=precip_mean, color='white', linewidth=2.2, ax=ax2)
sns.lineplot(x=hours, y=precip_gfs, color='#10d010', linewidth=2.2, ax=ax2)

ax.set_xlim(0, 378)
ax.set_ylim(-30, 30)
ax2.set_ylim(0, 50)
ax.set_yticks(temp_ticks)
ax.set_yticklabels([str(t) for t in temp_ticks])
ax2.set_yticks(precip_ticks)
ax2.set_yticklabels([str(t) for t in precip_ticks])
ax.set_xticks(date_ticks)
ax.set_xticklabels(date_labels)
ax.set_xlabel('')
ax.set_ylabel('')
ax2.set_ylabel('')

ax.tick_params(axis='y', length=4, width=1, labelsize=8.5, pad=2)
ax2.tick_params(axis='y', length=4, width=1, labelsize=8.5, pad=2)
ax.tick_params(axis='x', length=0, labelsize=8.5, pad=5)
ax.grid(True, color='#a0a0a0', linestyle=(0, (2, 5)), linewidth=0.8)
ax2.grid(False)
for a in (ax, ax2):
    for sp in a.spines.values():
        sp.set_color('white')
        sp.set_linewidth(1.6)
        sp.set_visible(True)

handles = [Line2D([], [], color='#ff0000', lw=3.5),
           Line2D([], [], color='#3020ff', lw=3.5),
           Line2D([], [], color='#10d010', lw=3.5),
           Line2D([], [], color='white', lw=3.5)]
labels = ['30-Jahres-Mittel', 'Kontroll-Lauf', 'GFS-Hauptlauf', 'Ensemble-Mittel']
leg = ax2.legend(handles, labels, loc='upper right', bbox_to_anchor=(1, 1),
                 borderaxespad=0, frameon=True, fancybox=False, facecolor='black',
                 edgecolor='white', fontsize=9, handlelength=3.4, handletextpad=1.6,
                 labelspacing=0.15, borderpad=0.6, labelcolor='white')
leg.get_frame().set_linewidth(1.0)

# member labels on the left
for k, (name, col) in enumerate(zip(member_names, member_colors)):
    fig.text(55 / 800, 1 - (109 + 18.2 * k) / 618, name, color=col,
             fontsize=8.5, va='center', ha='left')

fig.text(72 / 800, 1 - 12 / 618, 'De_Bilt  Lat: 52 Lon: 5', fontsize=12.3,
         va='center', ha='left')
fig.text(720 / 800, 1 - 12 / 618, 'Tue,30OCT2012 00Z', fontsize=12.3,
         va='center', ha='right')
fig.text(453 / 800, 1 - 35 / 618, '850 hPa Temp. in °C, 6h-Niederschlag in mm',
         fontsize=17, va='center', ha='center')
fig.text(146 / 800, 1 - 607 / 618, 'Daten: Ensembles des GFS von NCEP',
         fontsize=10, va='center', ha='left')
fig.text(775 / 800, 1 - 607 / 618, 'Wetterzentrale', fontsize=11.7,
         va='center', ha='right')

fig.savefig('out.png', dpi=100, facecolor='black')
